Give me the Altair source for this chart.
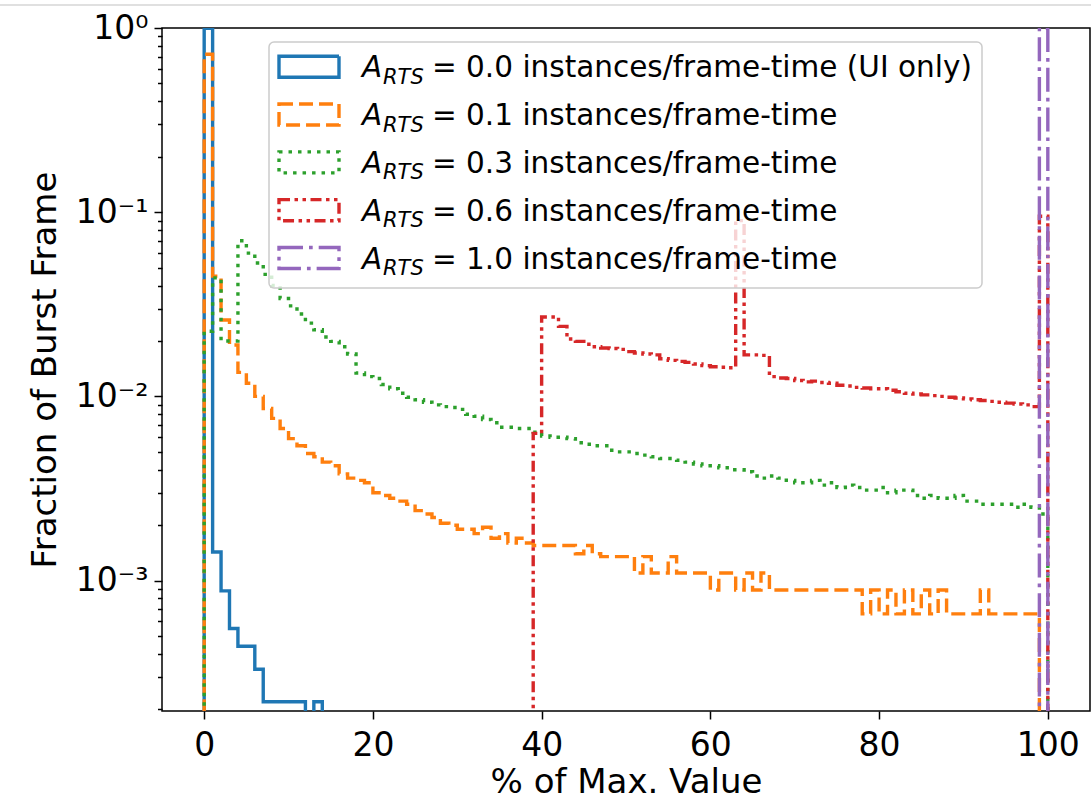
import json
import altair as alt
import pandas as pd

# ---------------- data ----------------
series_keys = ["0.0", "0.1", "0.3", "0.6", "1.0"]
legend_tails = [
    "= 0.0 instances/frame-time (UI only)",
    "= 0.1 instances/frame-time",
    "= 0.3 instances/frame-time",
    "= 0.6 instances/frame-time",
    "= 1.0 instances/frame-time",
]

# histogram bins are 1 "% of max value" wide; first bin index of each list
first_bin = {"0.0": 0, "0.1": 0, "0.3": 0, "0.6": 39, "1.0": 99}

blue_vals = [0.996, 1.43e-3, 8.8e-4, 5.5e-4, 4.4e-4, 4.4e-4, 3.3e-4, 2.2e-4,
             2.2e-4, 2.2e-4, 2.2e-4, 2.2e-4, 0, 2.2e-4]

orange_vals = [
    0.72, 0.045, 0.026, 0.019, 0.0135, 0.0118, 0.0100, 0.0086, 0.0076, 0.0067,
    0.0059, 0.0054, 0.0049, 0.0047, 0.0044, 0.0042, 0.0038, 0.0036, 0.0035, 0.0034,
    0.0030, 0.0029, 0.0028, 0.0027, 0.0026, 0.0024, 0.0023, 0.0022, 0.00205, 0.0020,
    0.0019, 0.0019, 0.0018, 0.00195, 0.0017, 0.0018, 0.0016, 0.0017, 0.0016, 0.00155,
    0.00155, 0.00155, 0.00155, 0.00155, 0.0014, 0.00155, 0.0014, 0.00135, 0.00135, 0.00135,
    0.00135, 0.0011, 0.00135, 0.0011, 0.0011, 0.00135, 0.0011, 0.0011, 0.0011, 0.0011,
    0.00089, 0.0011, 0.0011, 0.00089, 0.0011, 0.00089, 0.0011, 0.00089, 0.00089, 0.00089,
    0.00089, 0.00089, 0.00089, 0.00089, 0.00089, 0.00089, 0.00089, 0.00089, 0.00066, 0.00089,
    0.00066, 0.00089, 0.00066, 0.00089, 0.00066, 0.00089, 0.00066, 0.00089, 0.00066, 0.00066,
    0.00066, 0.00066, 0.00089, 0.00066, 0.00066, 0.00066, 0.00066, 0.00066, 0.00066,
]

green_vals = [
    0.0226, 0.044, 0.020, 0.020, 0.070, 0.060, 0.053, 0.046, 0.040, 0.034,
    0.031, 0.028, 0.025, 0.023, 0.021, 0.0199, 0.0186, 0.017, 0.0134, 0.0128,
    0.0125, 0.0116, 0.011, 0.0104, 0.0099, 0.0096, 0.0093, 0.0090, 0.0088, 0.0087,
    0.0085, 0.0080, 0.0078, 0.0075, 0.0072, 0.0068, 0.0068, 0.0067, 0.0067, 0.0064,
    0.0061, 0.0060, 0.0060, 0.0059, 0.0056, 0.0055, 0.0054, 0.0054, 0.0051, 0.0050,
    0.0050, 0.0049, 0.0048, 0.0047, 0.0046, 0.0046, 0.0045, 0.0044, 0.0043, 0.0042,
    0.0042, 0.0041, 0.0040, 0.0040, 0.0039, 0.0037, 0.0036, 0.0037, 0.0036, 0.0035,
    0.0034, 0.0034, 0.0035, 0.0033, 0.0034, 0.0032, 0.0033, 0.0032, 0.0031, 0.0031,
    0.0032, 0.0030, 0.0031, 0.0031, 0.0029, 0.0028, 0.0029, 0.0028, 0.0028, 0.0029,
    0.0027, 0.0027, 0.0026, 0.0026, 0.0026, 0.0026, 0.0025, 0.0026, 0.0025, 0.0023,
]

red_vals = [
    0.0063, 0.027, 0.027, 0.024, 0.0205, 0.0199, 0.0192, 0.0186, 0.0183, 0.0182,
    0.0180, 0.0175, 0.0172, 0.0170, 0.0168, 0.0160, 0.0157, 0.0155, 0.0153, 0.0150,
    0.0147, 0.0145, 0.0144, 0.0143, 0.090, 0.0168, 0.0168, 0.0167, 0.0128, 0.0126,
    0.0125, 0.0122, 0.0120, 0.0121, 0.0119, 0.0118, 0.0115, 0.0114, 0.0112, 0.0111,
    0.0110, 0.0110, 0.0108, 0.0106, 0.0104, 0.0103, 0.0102, 0.0101, 0.0100, 0.0099,
    0.0098, 0.0097, 0.0096, 0.0095, 0.0094, 0.0093, 0.0092, 0.0091, 0.0090, 0.0088,
    0.095,
]

purple_vals = [1.0]

values_by_key = {"0.0": blue_vals, "0.1": orange_vals, "0.3": green_vals,
                 "0.6": red_vals, "1.0": purple_vals}

x_ticks = [0, 20, 40, 60, 80, 100]
y_major = [1, 0.1, 0.01, 0.001]
y_major_labels = ["10⁰", "10⁻¹", "10⁻²", "10⁻³"]
y_minor = [m * 10.0 ** e for e in range(-4, 0) for m in range(2, 10)]

# ---------------- styles ----------------
colors = ["#1f77b4", "#ff7f0e", "#2ca02c", "#d62728", "#9467bd"]
dashes = [[1, 0], [14, 6], [3.5, 6], [11, 4.5, 3.5, 4.5, 3.5, 4.5], [24, 6, 3.7, 6]]
FONT = "DejaVu Sans"
LW = 3.4
W, H = 928, 683
FLOOR = 1e-6  # empty bins -> drawn below the visible axis (clipped)

# ---------------- step outlines (matplotlib histtype="step") ----------------
rows = []
for key in series_keys:
    start = first_bin[key]
    vals = values_by_key[key]
    pts = [(start, FLOOR)]
    for i, v in enumerate(vals):
        pts.append((start + i, v if v > 0 else FLOOR))
    end = start + len(vals)
    pts.append((end, vals[-1] if vals[-1] > 0 else FLOOR))
    pts.append((end, FLOOR))
    for j, (xx, yy) in enumerate(pts):
        rows.append({"series": key, "x": xx, "y": yy, "idx": j})
step_df = pd.DataFrame(rows)

color_scale = alt.Scale(domain=series_keys, range=colors)
dash_scale = alt.Scale(domain=series_keys, range=dashes)
x_scale = alt.Scale(domain=[-5, 105], nice=False, zero=False)
y_scale = alt.Scale(type="log", domain=[1.96e-4, 1], nice=False)

label_expr = (json.dumps(y_major_labels, ensure_ascii=False)
              + "[round(-log(datum.value)/LN10)]")

lines = alt.Chart(step_df).mark_line(
    interpolate="step-after", strokeWidth=LW, clip=True
).encode(
    x=alt.X("x:Q", scale=x_scale,
            axis=alt.Axis(values=x_ticks, title="% of Max. Value", grid=False,
                          domain=False, tickSize=8, labelPadding=36,
                          labelBaseline="alphabetic", titleX=W / 2, titleY=81,
                          titleAlign="center", titleBaseline="alphabetic")),
    y=alt.Y("y:Q", scale=y_scale,
            axis=alt.Axis(values=y_major, labelExpr=label_expr,
                          title="Fraction of Burst Frame", grid=False,
                          domain=False, tickSize=8, labelPadding=6,
                          orient="left", titleX=-117, titleY=H / 2,
                          titleAngle=270, titleAlign="center",
                          titleBaseline="middle")),
    color=alt.Color("series:N", scale=color_scale, legend=None),
    strokeDash=alt.StrokeDash("series:N", scale=dash_scale, legend=None),
    order=alt.Order("idx:Q"),
)

minor = alt.Chart(pd.DataFrame({"y": y_minor})).mark_point(opacity=0).encode(
    y=alt.Y("y:Q", scale=y_scale,
            axis=alt.Axis(values=y_minor, labels=False, title=None, grid=False,
                          domain=False, tickSize=4.5, orient="left")),
)

# ---------------- legend (custom, to get the subscript) ----------------
leg_df = pd.DataFrame({
    "series": series_keys,
    "row": list(range(len(series_keys))),
    "tail": legend_tails,
})
leg_df["ptop"] = leg_df["row"] - 0.22
leg_df["pbot"] = leg_df["row"] + 0.22
leg_scale = alt.Scale(domain=[0, 4], range=[38.7, 230])
one = pd.DataFrame({"k": [0]})

box = alt.Chart(one).mark_rect(
    fill="white", fillOpacity=0.8, stroke="#cccccc", strokeWidth=1.5,
    cornerRadius=5
).encode(x=alt.value(107), x2=alt.value(820), y=alt.value(14), y2=alt.value(260))

patches = []
for i, key in enumerate(series_keys):
    patches.append(
        alt.Chart(leg_df).transform_filter(alt.datum.series == key).mark_rect(
            filled=False, stroke=colors[i], strokeDash=dashes[i], strokeWidth=LW
        ).encode(
            x=alt.value(117), x2=alt.value(177),
            y=alt.Y("ptop:Q", scale=leg_scale, axis=None), y2="pbot:Q",
        )
    )

txt_a = alt.Chart(leg_df).mark_text(
    text="A", font=FONT, fontStyle="italic", fontSize=29.5, align="left",
    baseline="alphabetic", dy=10.5, color="black"
).encode(x=alt.value(200), y=alt.Y("row:Q", scale=leg_scale, axis=None))

txt_sub = alt.Chart(leg_df).mark_text(
    text="RTS", font=FONT, fontStyle="italic", fontSize=21, align="left",
    baseline="alphabetic", dy=17, color="black"
).encode(x=alt.value(221), y=alt.Y("row:Q", scale=leg_scale, axis=None))

txt_tail = alt.Chart(leg_df).mark_text(
    font=FONT, fontSize=29.5, align="left", baseline="alphabetic", dy=10.5,
    color="black"
).encode(x=alt.value(270), y=alt.Y("row:Q", scale=leg_scale, axis=None),
         text="tail:N")

top_rule = alt.Chart(one).mark_rule(color="#d6d6d6", strokeWidth=1.5).encode(
    x=alt.value(-162), x2=alt.value(W + 1), y=alt.value(-23)
)

chart = alt.layer(
    lines, minor, box, *patches, txt_a, txt_sub, txt_tail, top_rule
).resolve_scale(y="independent").properties(
    width=W, height=H,
    autosize=alt.AutoSizeParams(type="none"),
    padding={"left": 162, "top": 28, "right": 1, "bottom": 92},
    background="white",
).configure_view(
    stroke="black", strokeWidth=1.5
).configure_axis(
    labelFont=FONT, titleFont=FONT, labelFontSize=33, titleFontSize=34,
    labelColor="black", titleColor="black", titleFontWeight="normal",
    tickColor="black", tickWidth=1.5,
)

chart.save("out.html", embed_options={"renderer": "svg", "actions": False})
